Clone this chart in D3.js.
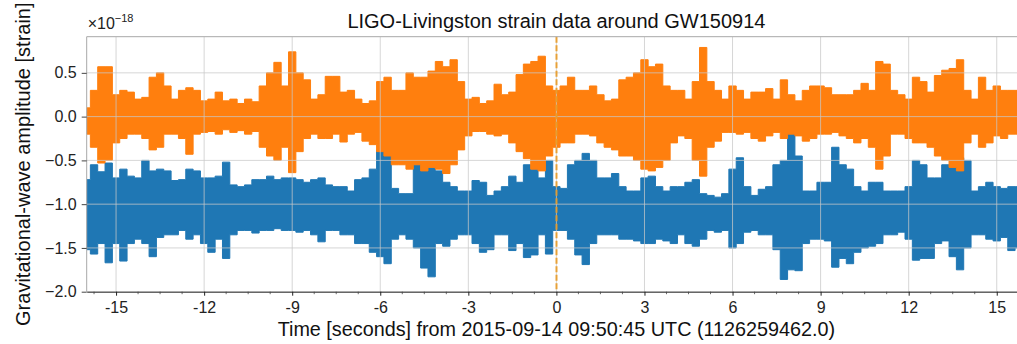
<!DOCTYPE html>
<html>
<head>
<meta charset="utf-8">
<script src="https://cdn.jsdelivr.net/npm/d3@7"></script>
<style>
  html, body { margin: 0; padding: 0; background: #fff; }
  svg { display: block; font-family: "Liberation Sans", Arial, Helvetica, sans-serif; }
</style>
</head>
<body>
<svg id="chart" width="1017" height="344"></svg>
<script>
// Sampling of the envelope series: one value every 0.25 s, starting at -16 s
const tStart = -16;
const tStep = 0.25;

// Orange trace (strain, units of 1e-18): upper / lower envelope per sample
const orangeHi = [
  0.10, 0.30, 0.57, 0.57, 0.25, 0.30, 0.28, 0.20,
  0.22, 0.45, 0.50, 0.35, 0.20, 0.30, 0.33, 0.30,
  0.18, 0.20, 0.28, 0.18, 0.20, 0.15, 0.20, 0.17,
  0.35, 0.50, 0.62, 0.35, 0.74, 0.50, 0.42, 0.20,
  0.25, 0.46, 0.46, 0.28, 0.30, 0.20, 0.15, 0.18,
  0.40, 0.45, 0.30, 0.30, 0.50, 0.45, 0.45, 0.52,
  0.63, 0.57, 0.65, 0.40, 0.20, 0.22, 0.15, 0.18,
  0.37, 0.25, 0.28, 0.48, 0.60, 0.63, 0.69, 0.35,
  0.30, 0.35, 0.45, 0.30, 0.30, 0.35, 0.25, 0.18,
  0.20, 0.42, 0.45, 0.50, 0.65, 0.57, 0.60, 0.35,
  0.30, 0.30, 0.20, 0.40, 0.79, 0.40, 0.30, 0.20,
  0.35, 0.30, 0.20, 0.28, 0.28, 0.32, 0.20, 0.42,
  0.25, 0.18, 0.30, 0.35, 0.35, 0.33, 0.25, 0.25,
  0.25, 0.30, 0.38, 0.30, 0.63, 0.60, 0.30, 0.25,
  0.20, 0.45, 0.40, 0.28, 0.47, 0.53, 0.55, 0.65,
  0.30, 0.20, 0.45, 0.30, 0.35, 0.30, 0.30, 0.30
];
const orangeLo = [
  -0.20, -0.35, -0.53, -0.50, -0.30, -0.25, -0.20, -0.20,
  -0.25, -0.38, -0.35, -0.20, -0.20, -0.25, -0.43, -0.20,
  -0.18, -0.17, -0.20, -0.15, -0.18, -0.16, -0.20, -0.17,
  -0.35, -0.45, -0.50, -0.35, -0.64, -0.40, -0.25, -0.20,
  -0.25, -0.25, -0.20, -0.29, -0.20, -0.18, -0.28, -0.32,
  -0.40, -0.45, -0.55, -0.55, -0.60, -0.55, -0.62, -0.58,
  -0.60, -0.65, -0.55, -0.38, -0.22, -0.17, -0.17, -0.20,
  -0.22, -0.20, -0.30, -0.40, -0.48, -0.60, -0.62, -0.45,
  -0.35, -0.30, -0.30, -0.20, -0.20, -0.22, -0.30, -0.35,
  -0.38, -0.45, -0.45, -0.50, -0.60, -0.62, -0.58, -0.50,
  -0.30, -0.22, -0.25, -0.50, -0.68, -0.35, -0.28, -0.18,
  -0.18, -0.20, -0.18, -0.25, -0.28, -0.22, -0.18, -0.25,
  -0.20, -0.22, -0.28, -0.25, -0.20, -0.20, -0.18, -0.22,
  -0.25, -0.30, -0.25, -0.35, -0.60, -0.45, -0.20, -0.20,
  -0.25, -0.30, -0.30, -0.35, -0.45, -0.50, -0.58, -0.62,
  -0.30, -0.20, -0.35, -0.30, -0.22, -0.25, -0.20, -0.20
];

// Blue trace (strain, units of 1e-18, offset by -1): upper / lower envelope
const blueHi = [
  -0.72, -0.55, -0.63, -0.53, -0.70, -0.60, -0.68, -0.70,
  -0.50, -0.62, -0.60, -0.62, -0.73, -0.72, -0.60, -0.62,
  -0.70, -0.70, -0.68, -0.52, -0.78, -0.80, -0.78, -0.72,
  -0.72, -0.68, -0.72, -0.70, -0.70, -0.72, -0.75, -0.72,
  -0.70, -0.78, -0.80, -0.80, -0.85, -0.72, -0.70, -0.60,
  -0.38, -0.45, -0.82, -0.88, -0.88, -0.55, -0.42, -0.45,
  -0.62, -0.75, -0.80, -0.85, -0.85, -0.73, -0.75, -0.90,
  -0.85, -0.80, -0.68, -0.75, -0.55, -0.60, -0.70, -0.50,
  -0.80, -0.82, -0.55, -0.50, -0.42, -0.50, -0.70, -0.70,
  -0.65, -0.80, -0.85, -0.85, -0.70, -0.68, -0.80, -0.85,
  -0.80, -0.80, -0.75, -0.72, -0.88, -0.90, -0.92, -0.88,
  -0.60, -0.47, -0.80, -0.90, -0.83, -0.80, -0.55, -0.50,
  -0.15, -0.45, -0.85, -0.85, -0.75, -0.75, -0.35, -0.55,
  -0.60, -0.80, -0.85, -0.75, -0.75, -0.85, -0.85, -0.85,
  -0.80, -0.50, -0.55, -0.70, -0.70, -0.55, -0.55, -0.47,
  -0.50, -0.85, -0.80, -0.75, -0.80, -0.82, -0.80, -0.80
];
const blueLo = [
  -1.52, -1.57, -1.45, -1.67, -1.45, -1.65, -1.45, -1.40,
  -1.45, -1.60, -1.38, -1.35, -1.35, -1.30, -1.40, -1.35,
  -1.45, -1.55, -1.40, -1.62, -1.35, -1.30, -1.30, -1.33,
  -1.30, -1.30, -1.28, -1.30, -1.30, -1.32, -1.30, -1.35,
  -1.43, -1.30, -1.30, -1.35, -1.35, -1.45, -1.45, -1.55,
  -1.60, -1.68, -1.40, -1.35, -1.40, -1.50, -1.73, -1.83,
  -1.45, -1.48, -1.40, -1.35, -1.35, -1.45, -1.55, -1.52,
  -1.35, -1.35, -1.53, -1.45, -1.61, -1.58, -1.35, -1.57,
  -1.30, -1.30, -1.40, -1.58, -1.69, -1.45, -1.35, -1.35,
  -1.35, -1.40, -1.40, -1.42, -1.45, -1.45, -1.40, -1.42,
  -1.45, -1.35, -1.45, -1.48, -1.40, -1.30, -1.32, -1.30,
  -1.50, -1.45, -1.32, -1.30, -1.35, -1.35, -1.52, -1.86,
  -1.75, -1.76, -1.45, -1.40, -1.40, -1.42, -1.72, -1.62,
  -1.68, -1.55, -1.50, -1.48, -1.45, -1.35, -1.35, -1.32,
  -1.40, -1.64, -1.62, -1.62, -1.45, -1.42, -1.60, -1.75,
  -1.50, -1.35, -1.35, -1.40, -1.42, -1.38, -1.53, -1.50
];

// Axis ticks
const xTicks = [-15, -12, -9, -6, -3, 0, 3, 6, 9, 12, 15];
const yTicks = [0.5, 0.0, -0.5, -1.0, -1.5, -2.0];
const xDomain = [-16, 16];
const yDomain = [-2.0, 0.913];
const eventTime = 0;

const titleText = "LIGO-Livingston strain data around GW150914";
const xLabelText = "Time [seconds] from 2015-09-14 09:50:45 UTC (1126259462.0)";
const yLabelText = "Gravitational-wave amplitude [strain]";

// ---- layout ----
const margin = { left: 86.7, top: 36.7, right: 1026.1, bottom: 291.7 };
const svg = d3.select("#chart");

const x = d3.scaleLinear().domain(xDomain).range([margin.left, margin.right]);
const y = d3.scaleLinear().domain(yDomain).range([margin.bottom, margin.top]);

svg.append("defs").append("clipPath").attr("id", "plotClip")
  .append("rect")
  .attr("x", margin.left).attr("y", margin.top)
  .attr("width", margin.right - margin.left)
  .attr("height", margin.bottom - margin.top);

const toRows = (hi, lo) => hi.map((h, i) => ({ t: tStart + i * tStep, hi: h, lo: lo[i] }));

// Filled envelope, stepped so each sample reads as a narrow spike
const area = d3.area()
  .x(d => x(d.t))
  .y0(d => y(d.lo))
  .y1(d => y(d.hi))
  .curve(d3.curveStep);

const plot = svg.append("g").attr("clip-path", "url(#plotClip)");

// Blue first, orange drawn on top
[
  { hi: blueHi, lo: blueLo, color: "#1f77b4" },
  { hi: orangeHi, lo: orangeLo, color: "#ff7f0e" }
].forEach(s => {
  plot.append("path")
    .datum(toRows(s.hi, s.lo))
    .attr("d", area)
    .attr("fill", s.color)
    .attr("stroke", s.color)
    .attr("stroke-width", 1);
});

// Grid drawn above the traces
const grid = svg.append("g").attr("clip-path", "url(#plotClip)");
grid.selectAll("line.gx").data(xTicks).join("line")
  .attr("x1", d => x(d)).attr("x2", d => x(d))
  .attr("y1", margin.top).attr("y2", margin.bottom)
  .attr("stroke", "#c8c8c8").attr("stroke-opacity", 0.75).attr("stroke-width", 1);
grid.selectAll("line.gy").data(yTicks).join("line")
  .attr("x1", margin.left).attr("x2", margin.right)
  .attr("y1", d => y(d)).attr("y2", d => y(d))
  .attr("stroke", "#c8c8c8").attr("stroke-opacity", 0.75).attr("stroke-width", 1);

// Event marker
svg.append("line")
  .attr("x1", Math.round(x(eventTime)) + 0.5).attr("x2", Math.round(x(eventTime)) + 0.5)
  .attr("y1", margin.top).attr("y2", margin.bottom)
  .attr("stroke", "#e89a26").attr("stroke-opacity", 0.9)
  .attr("stroke-width", 2).attr("stroke-dasharray", "6,2.5");

// Frame
svg.append("line").attr("x1", margin.left).attr("x2", margin.right)
  .attr("y1", margin.top).attr("y2", margin.top)
  .attr("stroke", "#a8a8a8").attr("stroke-width", 1);
svg.append("line").attr("x1", margin.left).attr("x2", margin.left)
  .attr("y1", margin.top).attr("y2", margin.bottom)
  .attr("stroke", "#a8a8a8").attr("stroke-width", 1);

// X axis
const fmtX = d => String(d); // plain hyphen-minus, as on time axes
const xAxis = d3.axisBottom(x).tickValues(xTicks).tickFormat(fmtX)
  .tickSizeInner(4).tickSizeOuter(0).tickPadding(6);
const gx = svg.append("g").attr("transform", `translate(0,${margin.bottom})`).call(xAxis);
gx.select(".domain").attr("stroke", "#222");
gx.selectAll(".tick line").attr("stroke", "#222");
gx.selectAll("text").attr("font-size", 16).attr("fill", "#222")
  .attr("font-family", "Liberation Sans, Arial, sans-serif");

// minor x ticks
const xMinor = d3.range(-15.75, 16, 0.75).filter(v => !xTicks.some(t => Math.abs(t - v) < 1e-6));
svg.append("g").selectAll("line").data(xMinor).join("line")
  .attr("x1", d => x(d)).attr("x2", d => x(d))
  .attr("y1", margin.bottom).attr("y2", margin.bottom + 2.5)
  .attr("stroke", "#444").attr("stroke-width", 0.8);

// Y axis
const fmtY = d => d3.format(".1f")(d).replace("-", "\u2212");
const yAxis = d3.axisLeft(y).tickValues(yTicks).tickFormat(fmtY)
  .tickSizeInner(5).tickSizeOuter(0).tickPadding(5);
const gy = svg.append("g").attr("transform", `translate(${margin.left},0)`).call(yAxis);
gy.select(".domain").remove();
gy.selectAll(".tick line").attr("stroke", "#444");
gy.selectAll("text").attr("font-size", 16).attr("fill", "#222")
  .attr("font-family", "Liberation Sans, Arial, sans-serif");

// Offset label
const off = svg.append("text").attr("x", margin.left + 1).attr("y", 29)
  .attr("font-size", 16).attr("fill", "#222");
off.append("tspan").text("\u00d710");
off.append("tspan").attr("dy", -7).attr("font-size", 11).text("\u221218");

// Title
svg.append("text").attr("x", (margin.left + margin.right) / 2).attr("y", 28)
  .attr("text-anchor", "middle").attr("font-size", 20).attr("fill", "#111")
  .text(titleText);

// X label
svg.append("text").attr("x", (margin.left + margin.right) / 2).attr("y", 336)
  .attr("text-anchor", "middle").attr("font-size", 19.8).attr("fill", "#111")
  .text(xLabelText);

// Y label
svg.append("text")
  .attr("transform", `translate(30,${(margin.top + margin.bottom) / 2}) rotate(-90)`)
  .attr("text-anchor", "middle").attr("font-size", 20).attr("fill", "#111")
  .text(yLabelText);
</script>
</body>
</html>
